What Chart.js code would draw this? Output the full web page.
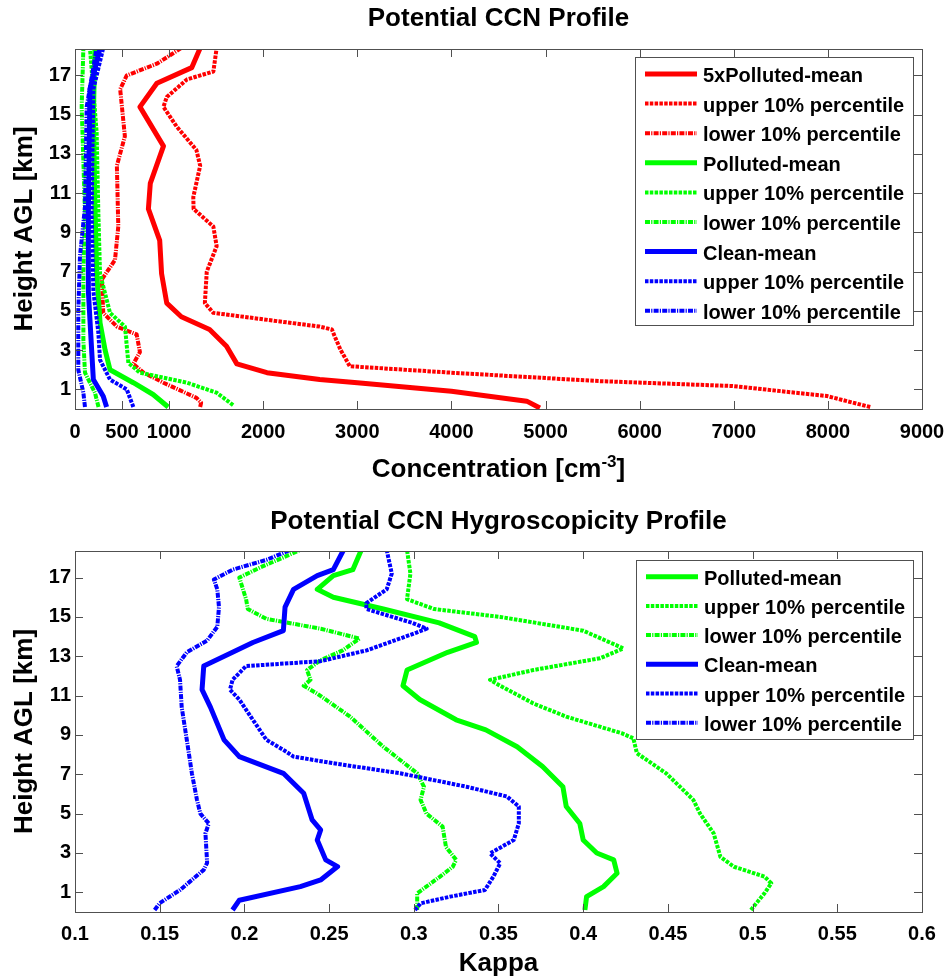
<!DOCTYPE html>
<html>
<head>
<meta charset="utf-8">
<title>Potential CCN Profile</title>
<script src="https://cdn.jsdelivr.net/npm/chart.js@4.4.1/dist/chart.umd.min.js"></script>
<style>
  html, body { margin: 0; padding: 0; background: #fff; }
  #wrap { position: relative; width: 948px; height: 979px; }
  canvas { position: absolute; left: 0; }
  #ccnChart { top: 0; }
  #kappaChart { top: 490px; }
</style>
</head>
<body>
<div id="wrap">
  <canvas id="ccnChart" width="948" height="490"></canvas>
  <canvas id="kappaChart" width="948" height="489"></canvas>
</div>
<script>
// data: [value, height in km]

// top panel, concentration [cm^-3]
const ccn5xPollutedMean = [[4940,0.05],[4800,0.4],[4000,0.9],[3000,1.34],[2600,1.5],[2040,1.85],[1720,2.3],[1610,3.2],[1430,4.05],[1130,4.7],[975,5.4],[920,6.9],[900,8.6],[780,10.2],[800,11.5],[940,13.4],[690,15.4],[870,16.6],[1240,17.4],[1330,18.4]];
const ccn5xPollutedUpper = [[8450,0.1],[7990,0.66],[6990,1.17],[5580,1.42],[4000,1.85],[2920,2.18],[2820,3.03],[2760,3.7],[2730,4.05],[2600,4.2],[1470,4.9],[1380,5.4],[1400,7.0],[1505,8.3],[1470,9.3],[1260,10.2],[1257,10.8],[1330,12.4],[1290,13.2],[1080,14.4],[940,15.4],[975,15.9],[1190,16.8],[1470,17.2],[1505,18.4]];
const ccn5xPollutedLower = [[1330,0.1],[1340,0.32],[1290,0.57],[940,1.34],[730,1.85],[620,2.3],[690,2.9],[655,3.8],[445,4.2],[300,4.9],[285,6.6],[425,7.6],[460,9.3],[445,12.4],[530,13.9],[480,16.3],[550,17.0],[870,17.6],[1130,18.4]];
const ccnPollutedMean = [[990,0.1],[830,0.74],[620,1.34],[372,2.0],[320,3.0],[266,4.4],[230,7.0],[212,10.3],[195,15.0],[212,18.4]];
const ccnPollutedUpper = [[1680,0.2],[1505,0.83],[1190,1.34],[690,1.85],[567,2.35],[531,4.2],[372,4.9],[266,6.9],[248,10.0],[230,14.1],[159,18.4]];
const ccnPollutedLower = [[250,0.1],[212,0.83],[106,1.85],[89,3.5],[89,7.0],[106,10.0],[71,15.4],[89,18.4]];
const ccnCleanMean = [[336,0.1],[300,0.65],[195,1.5],[177,3.0],[142,6.0],[142,10.0],[159,16.3],[266,18.4]];
const ccnCleanUpper = [[620,0.1],[550,1.0],[372,1.5],[266,2.5],[248,3.9],[195,6.0],[177,10.0],[195,16.3],[300,18.4]];
const ccnCleanLower = [[106,0.1],[89,0.83],[35,2.0],[35,5.0],[53,7.8],[106,10.3],[124,15.4],[230,18.4]];

// bottom panel, kappa
const kappaPollutedMean = [[0.401,0.1],[0.402,0.78],[0.412,1.29],[0.420,1.97],[0.418,2.65],[0.408,3.0],[0.400,3.66],[0.398,4.5],[0.390,5.36],[0.388,6.37],[0.376,7.4],[0.361,8.4],[0.3425,9.26],[0.325,9.77],[0.3035,10.8],[0.2936,11.5],[0.296,12.3],[0.320,13.2],[0.337,13.7],[0.336,14.0],[0.315,14.7],[0.282,15.4],[0.2525,16.0],[0.243,16.4],[0.2525,17.1],[0.264,17.4],[0.269,18.4]];
const kappaPollutedUpper = [[0.499,0.1],[0.507,0.95],[0.511,1.46],[0.507,1.8],[0.489,2.3],[0.481,2.8],[0.477,4.0],[0.469,5.0],[0.465,5.7],[0.449,7.05],[0.4317,8.07],[0.4296,8.83],[0.4226,9.09],[0.390,9.93],[0.3706,10.6],[0.351,11.5],[0.345,11.8],[0.3706,12.3],[0.41,12.9],[0.4237,13.4],[0.400,14.3],[0.351,15.0],[0.312,15.4],[0.296,15.9],[0.298,17.2],[0.296,18.4]];
const kappaPollutedLower = [[0.302,0.1],[0.302,0.95],[0.3155,1.8],[0.323,2.3],[0.325,2.65],[0.319,3.3],[0.317,4.34],[0.3075,5.0],[0.304,5.7],[0.306,6.37],[0.302,7.05],[0.282,8.4],[0.2624,9.93],[0.243,11.1],[0.235,11.5],[0.239,11.8],[0.237,12.3],[0.245,12.8],[0.258,13.3],[0.268,13.9],[0.245,14.4],[0.213,14.9],[0.202,15.4],[0.201,15.9],[0.197,17.0],[0.209,17.5],[0.233,18.4]];
const kappaCleanMean = [[0.193,0.1],[0.197,0.6],[0.233,1.29],[0.245,1.63],[0.255,2.31],[0.248,2.65],[0.243,3.66],[0.245,4.17],[0.240,4.68],[0.235,6.04],[0.223,7.05],[0.197,7.9],[0.188,8.75],[0.180,10.4],[0.175,11.3],[0.176,12.5],[0.193,13.2],[0.205,13.7],[0.223,14.3],[0.224,15.5],[0.229,16.4],[0.243,17.1],[0.2525,17.4],[0.2585,18.4]];
const kappaCleanUpper = [[0.3007,0.1],[0.304,0.44],[0.3215,0.78],[0.342,1.12],[0.347,1.8],[0.351,2.48],[0.345,2.98],[0.359,3.66],[0.362,4.5],[0.362,5.36],[0.355,5.87],[0.331,6.37],[0.292,7.05],[0.2525,7.56],[0.229,7.9],[0.223,8.24],[0.213,8.75],[0.205,9.77],[0.197,10.8],[0.1915,11.3],[0.193,11.8],[0.201,12.5],[0.245,12.75],[0.2722,13.3],[0.3016,14.2],[0.3076,14.4],[0.299,14.7],[0.272,15.4],[0.272,15.7],[0.284,16.4],[0.287,17.2],[0.284,18.4]];
const kappaCleanLower = [[0.147,0.1],[0.150,0.45],[0.162,1.12],[0.176,2.14],[0.178,2.5],[0.177,4.0],[0.179,4.5],[0.174,5.0],[0.172,5.7],[0.169,7.05],[0.166,8.75],[0.163,10.4],[0.162,11.8],[0.160,12.5],[0.166,13.2],[0.178,13.8],[0.184,14.5],[0.185,15.5],[0.184,16.4],[0.182,16.9],[0.193,17.4],[0.213,17.9],[0.227,18.4]];

// axis ticks
const heightTicks = [1, 3, 5, 7, 9, 11, 13, 15, 17];
const ccnTicks = [0, 500, 1000, 2000, 3000, 4000, 5000, 6000, 7000, 8000, 9000];
const kappaTicks = [0.1, 0.15, 0.2, 0.25, 0.3, 0.35, 0.4, 0.45, 0.5, 0.55, 0.6];

const FONT = '"Liberation Sans", Arial, Helvetica, sans-serif';
const RED = '#ff0000', GREEN = '#00ff00', BLUE = '#0000ff';
const DASH_UPPER = [3.5, 1.3];
const DASH_LOWER = [5, 1.2, 1.2, 1.2];

function series(label, pairs, color, kind, order) {
    const solid = kind === 'mean';
    return {
        label: label,
        data: pairs.map(p => ({ x: p[0], y: p[1] })),
        borderColor: color,
        backgroundColor: color,
        borderWidth: solid ? 5 : 4,
        borderDash: solid ? [] : (kind === 'upper' ? DASH_UPPER : DASH_LOWER),
        borderCapStyle: 'butt',
        borderJoinStyle: 'round',
        pointRadius: 0,
        tension: 0,
        fill: false,
        clip: 0,
        order: order
    };
}

// box round the plot with inward ticks on all four sides (matlab style)
const matlabBox = {
    id: 'matlabBox',
    afterDatasetsDraw(chart) {
        const { ctx, chartArea: a, scales } = chart;
        const len = 8;
        ctx.save();
        ctx.strokeStyle = '#505050';
        ctx.lineWidth = 1;
        ctx.beginPath();
        scales.x.ticks.forEach(t => {
            const px = Math.round(scales.x.getPixelForValue(t.value)) + 0.5;
            ctx.moveTo(px, a.bottom); ctx.lineTo(px, a.bottom - len);
            ctx.moveTo(px, a.top); ctx.lineTo(px, a.top + len);
        });
        scales.y.ticks.forEach(t => {
            const py = Math.round(scales.y.getPixelForValue(t.value)) + 0.5;
            ctx.moveTo(a.left, py); ctx.lineTo(a.left + len, py);
            ctx.moveTo(a.right, py); ctx.lineTo(a.right - len, py);
        });
        ctx.stroke();
        ctx.strokeRect(Math.round(a.left) + 0.5, Math.round(a.top) + 0.5,
            Math.round(a.right - a.left), Math.round(a.bottom - a.top));
        ctx.restore();
    }
};

// legend drawn inside the axes, top right
const boxLegend = {
    id: 'boxLegend',
    afterDraw(chart, args, opts) {
        const { ctx } = chart;
        const b = opts.box;
        ctx.save();
        ctx.fillStyle = '#fff';
        ctx.fillRect(b.left, b.top, b.right - b.left, b.bottom - b.top);
        ctx.strokeStyle = '#505050';
        ctx.lineWidth = 1;
        ctx.strokeRect(b.left + 0.5, b.top + 0.5, b.right - b.left, b.bottom - b.top);
        ctx.font = 'bold 20px ' + FONT;
        ctx.textBaseline = 'middle';
        ctx.textAlign = 'left';
        chart.data.datasets.forEach((ds, i) => {
            const y = b.top + opts.first + i * opts.rowH;
            ctx.strokeStyle = ds.borderColor;
            ctx.lineWidth = ds.borderWidth;
            ctx.lineCap = 'butt';
            ctx.setLineDash(ds.borderDash);
            ctx.beginPath();
            ctx.moveTo(b.left + 10, y);
            ctx.lineTo(b.left + 62, y);
            ctx.stroke();
            ctx.setLineDash([]);
            ctx.fillStyle = '#000';
            ctx.fillText(ds.label, b.left + 68, y + 2.5);
        });
        ctx.restore();
    }
};

// x title with a superscript, chart.js titles can't do that
const concTitle = {
    id: 'concTitle',
    afterDraw(chart, args, opts) {
        if (!opts.text) return;
        const { ctx, chartArea: a } = chart;
        const big = 'bold 26px ' + FONT, small = 'bold 17px ' + FONT;
        ctx.save();
        ctx.fillStyle = '#000';
        ctx.textBaseline = 'alphabetic';
        ctx.font = big;
        const w1 = ctx.measureText(opts.text).width;
        const w3 = ctx.measureText(opts.after).width;
        ctx.font = small;
        const w2 = ctx.measureText(opts.sup).width;
        let x = (a.left + a.right) / 2 - (w1 + w2 + w3) / 2;
        const y = opts.y;
        ctx.font = big;
        ctx.fillText(opts.text, x, y);
        x += w1;
        ctx.font = small;
        ctx.fillText(opts.sup, x, y - 10);
        x += w2;
        ctx.font = big;
        ctx.fillText(opts.after, x, y);
        ctx.restore();
    }
};

function makeOptions(cfg) {
    return {
        responsive: false,
        animation: false,
        devicePixelRatio: 1,
        layout: { padding: { left: 0, right: 26, top: 0, bottom: 0 } },
        plugins: {
            legend: { display: false },
            tooltip: { enabled: false },
            title: {
                display: true,
                text: cfg.title,
                fullSize: false,
                color: '#000',
                font: { family: FONT, size: 26, weight: 'bold' },
                padding: cfg.titlePad
            },
            boxLegend: cfg.legend,
            concTitle: cfg.conc || {}
        },
        scales: {
            x: {
                type: 'linear',
                min: cfg.xMin,
                max: cfg.xMax,
                grid: { display: false, drawTicks: false },
                border: { display: false },
                afterBuildTicks: scale => { scale.ticks = cfg.xTicks.map(v => ({ value: v })); },
                afterFit: scale => {
                    scale.height = cfg.xHeight;
                    // keep the plot edges fixed, labels may hang into the margin
                    scale.paddingLeft = 0;
                    scale.paddingRight = 0;
                },
                ticks: {
                    autoSkip: false,
                    maxRotation: 0,
                    minRotation: 0,
                    padding: cfg.xTickPad,
                    color: '#000',
                    font: { family: FONT, size: 20, weight: 'bold' },
                    callback: v => String(+Number(v).toFixed(2))
                },
                title: {
                    display: !!cfg.xTitle,
                    text: cfg.xTitle || '',
                    color: '#000',
                    font: { family: FONT, size: 26, weight: 'bold' },
                    padding: { top: 0, bottom: 0 }
                }
            },
            y: {
                type: 'linear',
                min: 0,
                max: 18.35,
                grid: { display: false, drawTicks: false },
                border: { display: false },
                afterBuildTicks: scale => { scale.ticks = heightTicks.map(v => ({ value: v })); },
                afterFit: scale => { scale.width = 75; },
                ticks: {
                    padding: 4,
                    color: '#000',
                    font: { family: FONT, size: 20, weight: 'bold' },
                    callback: v => String(v)
                },
                title: {
                    display: true,
                    text: 'Height AGL [km]',
                    color: '#000',
                    font: { family: FONT, size: 26, weight: 'bold' },
                    padding: { top: 9.4, bottom: 0 }
                }
            }
        }
    };
}

new Chart(document.getElementById('ccnChart'), {
    type: 'line',
    data: {
        datasets: [
            series('5xPolluted-mean', ccn5xPollutedMean, RED, 'mean', 6),
            series('upper 10% percentile', ccn5xPollutedUpper, RED, 'upper', 7),
            series('lower 10% percentile', ccn5xPollutedLower, RED, 'lower', 8),
            series('Polluted-mean', ccnPollutedMean, GREEN, 'mean', 3),
            series('upper 10% percentile', ccnPollutedUpper, GREEN, 'upper', 4),
            series('lower 10% percentile', ccnPollutedLower, GREEN, 'lower', 5),
            series('Clean-mean', ccnCleanMean, BLUE, 'mean', 0),
            series('upper 10% percentile', ccnCleanUpper, BLUE, 'upper', 1),
            series('lower 10% percentile', ccnCleanLower, BLUE, 'lower', 2)
        ]
    },
    options: makeOptions({
        title: 'Potential CCN Profile',
        titlePad: { top: 2.9, bottom: 14.9 },
        xMin: 0, xMax: 9000, xTicks: ccnTicks,
        xHeight: 81, xTickPad: 11.5,
        legend: { box: { left: 635, top: 57, right: 913, bottom: 325 }, first: 17, rowH: 29.6 },
        conc: { text: 'Concentration [cm', sup: '-3', after: ']', y: 477 }
    }),
    plugins: [matlabBox, boxLegend, concTitle]
});

new Chart(document.getElementById('kappaChart'), {
    type: 'line',
    data: {
        datasets: [
            series('Polluted-mean', kappaPollutedMean, GREEN, 'mean', 3),
            series('upper 10% percentile', kappaPollutedUpper, GREEN, 'upper', 4),
            series('lower 10% percentile', kappaPollutedLower, GREEN, 'lower', 5),
            series('Clean-mean', kappaCleanMean, BLUE, 'mean', 0),
            series('upper 10% percentile', kappaCleanUpper, BLUE, 'upper', 1),
            series('lower 10% percentile', kappaCleanLower, BLUE, 'lower', 2)
        ]
    },
    options: makeOptions({
        title: 'Potential CCN Hygroscopicity Profile',
        titlePad: { top: 15.9, bottom: 13.9 },
        xMin: 0.1, xMax: 0.6, xTicks: kappaTicks,
        xHeight: 67, xTickPad: 10,
        xTitle: 'Kappa',
        legend: { box: { left: 636, top: 70, right: 913, bottom: 249 }, first: 16.7, rowH: 29.2 }
    }),
    plugins: [matlabBox, boxLegend, concTitle]
});
</script>
</body>
</html>
